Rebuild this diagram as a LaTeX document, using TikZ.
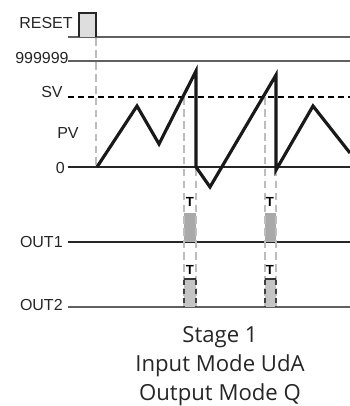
\documentclass[tikz,border=0pt]{standalone}
\usepackage{fontspec}
\setmainfont{Liberation Sans}
\newfontfamily\capfont{Open Sans}
\usepackage{tikz}
\definecolor{pulsedark}{HTML}{A9A9A9}
\definecolor{pulselight}{HTML}{C4C4C4}
\definecolor{guidegray}{HTML}{BDBDBD}
\definecolor{boxgray}{HTML}{DEDEDE}
\tikzset{
  levelline/.style = {gray!75!black,line width=0.7pt},
  sigline/.style   = {black!85,line width=0.7pt},
  setline/.style   = {black,line width=0.9pt,dash pattern=on 3.3pt off 2.4pt},
  guide/.style     = {guidegray,line width=0.9pt,dash pattern=on 4.4pt off 2.4pt},
  pvwave/.style    = {black!90,line width=1.8pt,line join=miter},
  lvl/.style       = {anchor=east,inner sep=0pt,font=\fontsize{9.1}{11}\selectfont,black!85},
  tlabel/.style    = {inner sep=0pt,font=\fontsize{7.5}{9}\selectfont\bfseries}
}
\newcommand{\outpulse}[2]{%
  \fill[pulsedark] (#1,213) rectangle (#2,242);
  \fill[pulselight] (#1,279) rectangle (#2,307);
}
\begin{document}
\begin{tikzpicture}[x=0.02cm,y=-0.02cm]
  \useasboundingbox (0,0) rectangle (350,406);
  % labels
  \node[lvl] (reset) at (73,23) {RESET};
  \node[lvl] (max)   at (69,58) {999999};
  \node[lvl] (sv)    at (63,92) {SV};
  \node[lvl] (pv)    at (79,133) {PV};
  \node[lvl] (zero)  at (65,168) {0};
  \node[lvl] (out1)  at (63,242) {OUT1};
  \node[lvl] (out2)  at (63,305) {OUT2};
  % levels
  \draw[levelline] (68,37) -- (350,37);
  \draw[levelline] (68,61) -- (350,61);
  \draw[setline]   (68,97) -- (350,97);
  \draw[sigline]   (68,167) -- (350,167);
  \draw[sigline]   (68,242) -- (350,242);
  \draw[levelline] (68,307) -- (350,307);
  % reset pulse
  \draw[fill=boxgray,draw=black!85,line width=0.7pt] (79,37) -- (79,13) -- (96,13) -- (96,37);
  \draw[guide] (96,38) -- (96,167);
  % outputs
  \outpulse{184}{196}
  \outpulse{265}{276}
  \foreach \x in {184,196,265,276}
    \draw[guide] (\x,97) -- (\x,307);
  \foreach \a/\b in {184/196,265/276}{
    \draw[black!80,line width=0.7pt] (\a,279) -- (\b,279);
    \draw[black!75,line width=0.7pt,dash pattern=on 3pt off 2pt] (\a,280) -- (\a,307) (\b,280) -- (\b,307);
  }
  \node[tlabel] (t1a) at (190,202) {T};
  \node[tlabel] (t1b) at (270,202) {T};
  \node[tlabel] (t2a) at (190,270) {T};
  \node[tlabel] (t2b) at (270,270) {T};
  % process value
  \draw[pvwave] (97,167) -- (137,106) -- (159,144) -- (196,71) -- (196,167)
    -- (210,187) -- (276,75) -- (276,170) -- (313,106) -- (350,153);
  % caption
  \node[align=center,font=\capfont\fontsize{12.6}{16.5}\selectfont,black!85] (cap) at (220,366)
    {Stage 1\\Input Mode UdA\\Output Mode Q};
\end{tikzpicture}
\end{document}
